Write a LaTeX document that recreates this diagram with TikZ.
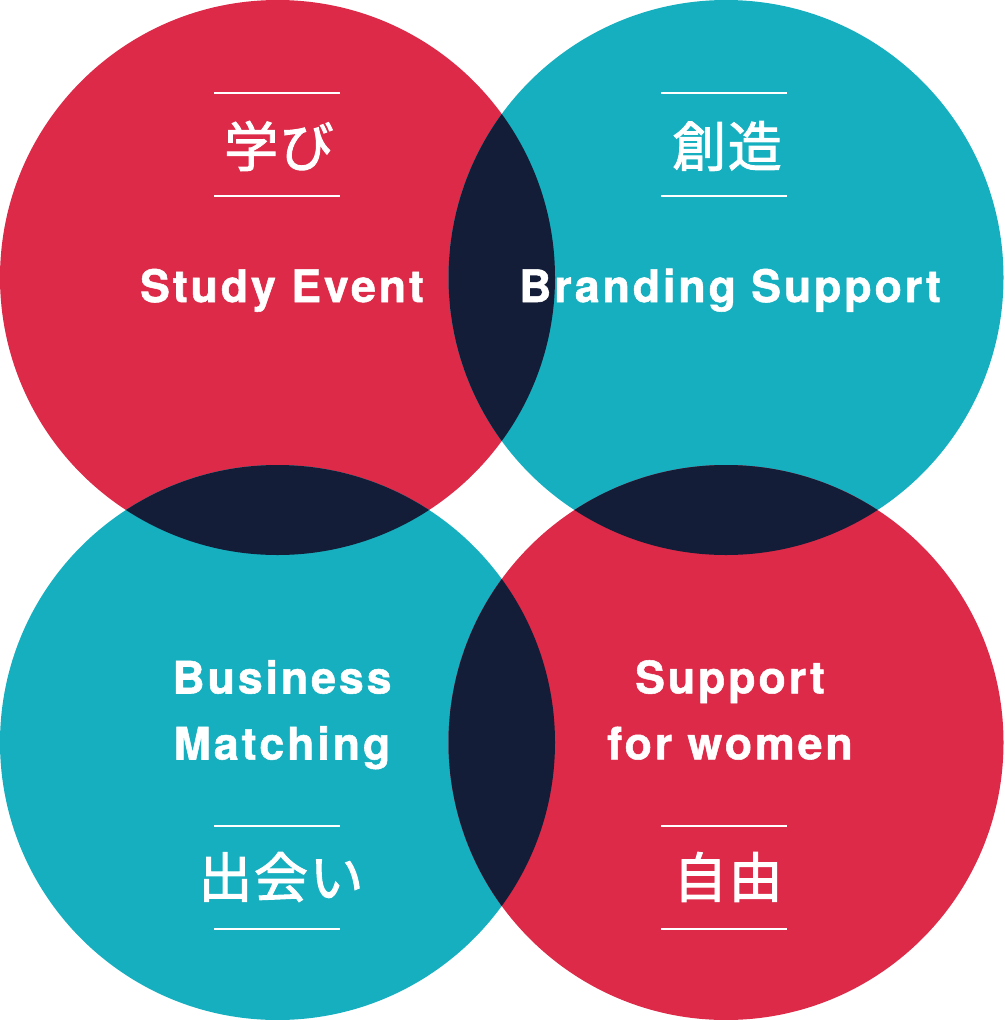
\documentclass[tikz,border=0pt]{standalone}
\usepackage{fontspec}
\setmainfont{TeX Gyre Heros}
\newfontfamily\enfont{TeX Gyre Heros}[LetterSpace=6.5, FakeBold=1.2]
\newfontfamily\jpfont{Noto Sans CJK JP}[FakeBold=1.8, LetterSpace=3]
\usetikzlibrary{positioning}
\definecolor{vred}{HTML}{DC2A48}
\definecolor{vteal}{HTML}{15AFBF}
\definecolor{vnavy}{HTML}{131D37}

\begin{document}
\begin{tikzpicture}[x=1pt, y=-1pt,
  entitle/.style={text=white, font=\enfont\bfseries\fontsize{44.7}{66}\selectfont, align=center, inner sep=0pt},
  jptitle/.style={text=white, font=\jpfont\fontsize{54}{54}\selectfont, inner sep=0pt},
  rule/.style={white, line width=1.5pt},
]
  \useasboundingbox (0,0) rectangle (1004,1020);
  % circle centres
  \coordinate (learn) at (277.5,277.5);
  \coordinate (create) at (726,277.5);
  \coordinate (meet) at (277.5,742.5);
  \coordinate (free) at (726,742.5);

  \fill[vred] (learn) circle[radius=277.5pt];
  \fill[vteal] (create) circle[radius=277.5pt];
  \fill[vteal] (meet) circle[radius=277.5pt];
  \fill[vred] (free) circle[radius=277.5pt];

  % overlaps
  \begin{scope}
    \clip (learn) circle[radius=277.5pt];
    \fill[vnavy] (create) circle[radius=277.5pt];
    \fill[vnavy] (meet) circle[radius=277.5pt];
  \end{scope}
  \begin{scope}
    \clip (free) circle[radius=277.5pt];
    \fill[vnavy] (create) circle[radius=277.5pt];
    \fill[vnavy] (meet) circle[radius=277.5pt];
  \end{scope}

  % labels
  \node[jptitle] (learnjp) at (279,146) {学び};
  \node[entitle, anchor=base] (learnen) at (282,302) {Study Event};
  \node[jptitle] (createjp) at (727,146) {創造};
  \node[entitle, anchor=base] (createen) at (730,302) {Branding Support};
  \node[entitle, anchor=north] (meeten) at (282,660) {Business\\Matching};
  \node[jptitle] (meetjp) at (281,877) {出会い};
  \node[entitle, anchor=north] (freeen) at (730,660) {Support\\for women};
  \node[jptitle] (freejp) at (728,877) {自由};

  % rules
  \foreach \n/\x/\y in {learnjp/277/144.5, createjp/724/144.5, meetjp/277/877.5, freejp/724/877.5} {
    \draw[rule] (\x-63,\y-51.5) -- (\x+63,\y-51.5);
    \draw[rule] (\x-63,\y+51.5) -- (\x+63,\y+51.5);
  }
\end{tikzpicture}
\end{document}
